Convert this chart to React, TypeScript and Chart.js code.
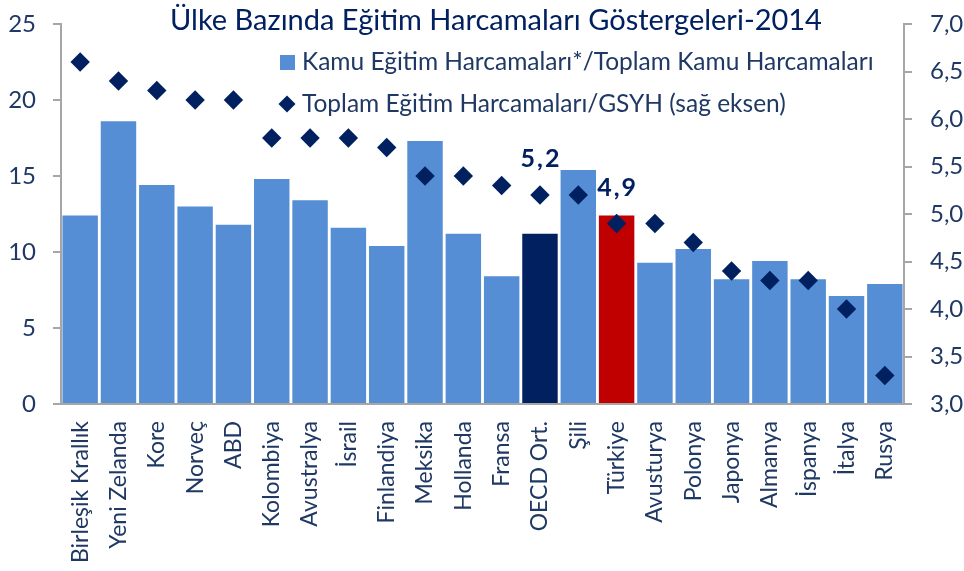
import React, { useEffect, useRef } from 'react';
import { Chart, registerables } from 'chart.js';

Chart.register(...registerables);

const categories = [
  'Birleşik Krallık', 'Yeni Zelanda', 'Kore', 'Norveç', 'ABD', 'Kolombiya',
  'Avustralya', 'İsrail', 'Finlandiya', 'Meksika', 'Hollanda', 'Fransa',
  'OECD Ort.', 'Şili', 'Türkiye', 'Avusturya', 'Polonya', 'Japonya',
  'Almanya', 'İspanya', 'İtalya', 'Rusya',
];
const publicShare = [
  12.4, 18.6, 14.4, 13.0, 11.8, 14.8, 13.4, 11.6, 10.4, 17.3, 11.2, 8.4,
  11.2, 15.4, 12.4, 9.3, 10.2, 8.2, 9.4, 8.2, 7.1, 7.9,
];
const totalGdp = [
  6.6, 6.4, 6.3, 6.2, 6.2, 5.8, 5.8, 5.8, 5.7, 5.4, 5.4, 5.3,
  5.2, 5.2, 4.9, 4.9, 4.7, 4.4, 4.3, 4.3, 4.0, 3.3,
];
const labelledCategories = ['OECD Ort.', 'Türkiye'];
const leftAxis = { min: 0, max: 25, step: 5 };
const rightAxis = { min: 3, max: 7, step: 0.5 };

const TITLE = 'Ülke Bazında Eğitim Harcamaları Göstergeleri-2014';
const LEGEND_BAR = 'Kamu Eğitim Harcamaları*/Toplam Kamu Harcamaları';
const LEGEND_PT = 'Toplam Eğitim Harcamaları/GSYH (sağ eksen)';

const LIGHT = '#558ED5';
const NAVY = '#002060';
const RED = '#C00000';
const TEXT = '#1F3864';
const AXIS = '#A6A6A6';
const FONT = 'Lato, "Open Sans", sans-serif';

const fmt = (v: number) => v.toFixed(1).replace('.', ',');

const CANVAS_W = 990;
const CANVAS_H = 571;
const AREA_LEFT = 61;
const AREA_RIGHT = 904;
const AREA_BOTTOM = 404;

const overlayPlugin = {
  id: 'overlay',
  afterDraw(chart: any) {
    const ctx = chart.ctx as CanvasRenderingContext2D;
    const area = chart.chartArea;
    ctx.save();
    // title
    ctx.font = `29px ${FONT}`;
    ctx.fillStyle = NAVY;
    ctx.textAlign = 'center';
    ctx.textBaseline = 'alphabetic';
    ctx.fillText(TITLE, 496, 30);

    // legend
    const lx = area.left + 226;
    ctx.fillStyle = LIGHT;
    ctx.fillRect(lx - 7, 55, 15, 15);
    ctx.fillStyle = NAVY;
    ctx.beginPath();
    ctx.moveTo(lx, 104 - 8.5);
    ctx.lineTo(lx + 8.5, 104);
    ctx.lineTo(lx, 104 + 8.5);
    ctx.lineTo(lx - 8.5, 104);
    ctx.closePath();
    ctx.fill();
    ctx.font = `24.5px ${FONT}`;
    ctx.fillStyle = TEXT;
    ctx.textAlign = 'left';
    ctx.textBaseline = 'middle';
    ctx.fillText(LEGEND_BAR, lx + 15, 62);
    ctx.fillText(LEGEND_PT, lx + 15, 104);

    // data labels
    const meta = chart.getDatasetMeta(0);
    ctx.font = `bold 25px ${FONT}`;
    ctx.fillStyle = NAVY;
    ctx.textAlign = 'center';
    ctx.textBaseline = 'middle';
    try { (ctx as any).letterSpacing = '2px'; } catch (e) {}
    labelledCategories.forEach((c) => {
      const i = categories.indexOf(c);
      const pt = meta.data[i];
      if (pt) ctx.fillText(fmt(totalGdp[i]), pt.x + 1, pt.y - 36);
    });
    ctx.restore();
  },
};

const fixVertical = (width: number) => (s: any) => {
  s.width = width;
  s.paddingTop = 0;
  s.paddingBottom = 0;
};

export default function App() {
  const ref = useRef<HTMLCanvasElement | null>(null);
  useEffect(() => {
    if (!ref.current) return;
    const barColors = categories.map((c) =>
      c === 'OECD Ort.' ? NAVY : c === 'Türkiye' ? RED : LIGHT
    );
    const chart = new Chart(ref.current, {
      data: {
        labels: categories,
        datasets: [
          {
            type: 'line',
            label: LEGEND_PT,
            data: totalGdp,
            yAxisID: 'y1',
            showLine: false,
            pointStyle: 'rectRot',
            pointRadius: 9.7,
            pointBackgroundColor: NAVY,
            pointBorderColor: NAVY,
            pointBorderWidth: 0,
            order: 0,
          },
          {
            type: 'bar',
            label: LEGEND_BAR,
            data: publicShare,
            yAxisID: 'y',
            backgroundColor: barColors,
            borderWidth: 0,
            barPercentage: 0.925,
            categoryPercentage: 1,
            order: 1,
          },
        ],
      } as any,
      options: {
        responsive: false,
        animation: false,
        events: [],
        layout: { padding: { top: 24, left: 0, right: 0, bottom: 0 } },
        plugins: {
          legend: { display: false },
          title: { display: false },
          tooltip: { enabled: false },
        },
        scales: {
          x: {
            grid: { display: false, drawTicks: false },
            border: { display: true, color: AXIS, width: 2 },
            ticks: {
              autoSkip: false,
              minRotation: 90,
              maxRotation: 90,
              padding: 17,
              color: TEXT,
              font: { family: FONT, size: 23 },
            },
            afterFit: (s: any) => { s.height = CANVAS_H - AREA_BOTTOM; },
          },
          y: {
            position: 'left',
            min: leftAxis.min,
            max: leftAxis.max,
            ticks: {
              stepSize: leftAxis.step,
              padding: 17,
              color: TEXT,
              font: { family: FONT, size: 24 },
            },
            grid: { drawOnChartArea: false, drawTicks: true, tickLength: 8, color: AXIS, lineWidth: 2 },
            border: { color: AXIS, width: 2 },
            afterFit: fixVertical(AREA_LEFT),
          },
          y1: {
            position: 'right',
            min: rightAxis.min,
            max: rightAxis.max,
            ticks: {
              stepSize: rightAxis.step,
              padding: 18,
              color: TEXT,
              font: { family: FONT, size: 24 },
              callback: (v: any) => fmt(Number(v)),
            },
            grid: { drawOnChartArea: false, drawTicks: true, tickLength: 8, color: AXIS, lineWidth: 2 },
            border: { color: AXIS, width: 2 },
            afterFit: fixVertical(CANVAS_W - AREA_RIGHT),
          },
        },
      } as any,
      plugins: [overlayPlugin],
    });
    return () => chart.destroy();
  }, []);

  return (
    <div style={{ position: 'fixed', left: 0, top: 0, width: 964, height: 571, overflow: 'hidden', background: '#fff' }}>
      <canvas ref={ref} width={CANVAS_W} height={CANVAS_H} style={{ display: 'block', width: CANVAS_W, height: CANVAS_H }} />
    </div>
  );
}
